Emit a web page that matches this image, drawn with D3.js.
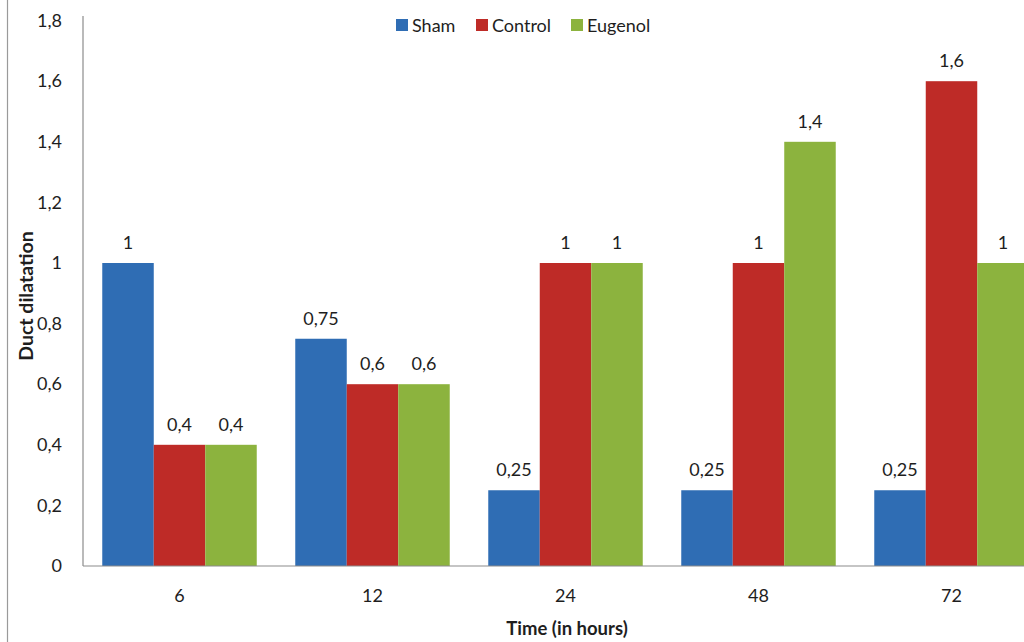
<!DOCTYPE html>
<html>
<head>
<meta charset="utf-8">
<script src="https://cdn.jsdelivr.net/npm/d3@7"></script>
<style>
  html, body { margin: 0; padding: 0; background: #fff; }
  svg { display: block; font-family: Lato, "Open Sans", sans-serif; }
</style>
</head>
<body>
<svg id="chart" width="1024" height="642"></svg>
<script>
// Duct dilatation over time for three groups
const categories = ["6", "12", "24", "48", "72"];
const seriesNames = ["Sham", "Control", "Eugenol"];
const shamValues = [1, 0.75, 0.25, 0.25, 0.25];
const controlValues = [0.4, 0.6, 1, 1, 1.6];
const eugenolValues = [0.4, 0.6, 1, 1.4, 1];
const yTicks = [0, 0.2, 0.4, 0.6, 0.8, 1, 1.2, 1.4, 1.6, 1.8];
const colors = ["#2f6db4", "#be2b27", "#8cb33e"];

const seriesValues = [shamValues, controlValues, eugenolValues];
const rows = categories.map((c, i) => ({
  cat: c,
  vals: seriesNames.map((s, j) => ({ key: s, value: seriesValues[j][i], color: colors[j] }))
}));

const svg = d3.select("#chart");
const plotLeft = 83, plotBottom = 566, plotTop = 20.6;
const fmt = v => String(v).replace(".", ",");
const textColor = "#1e1e1e";

// left page border line
svg.append("line")
  .attr("x1", 7.5).attr("x2", 7.5).attr("y1", 0).attr("y2", 642)
  .attr("stroke", "#9a9a9a").attr("stroke-width", 1.2);

const y = d3.scaleLinear().domain([0, 1.8]).range([plotBottom, plotTop]);
const x0 = d3.scaleBand().domain(categories).range([plotLeft, plotLeft + 5 * 193]).padding(0);
const x1 = d3.scaleBand().domain(seriesNames).range([0, x0.bandwidth()])
  .paddingInner(0).paddingOuter(0.374);

// bars
const groups = svg.append("g").selectAll("g").data(rows).join("g")
  .attr("transform", d => `translate(${x0(d.cat)},0)`);

groups.selectAll("rect").data(d => d.vals).join("rect")
  .attr("x", d => x1(d.key))
  .attr("y", d => y(d.value))
  .attr("width", x1.bandwidth())
  .attr("height", d => plotBottom - y(d.value))
  .attr("fill", d => d.color);

// value labels
groups.selectAll("text").data(d => d.vals).join("text")
  .attr("x", d => x1(d.key) + x1.bandwidth() / 2)
  .attr("y", d => y(d.value) - 14)
  .attr("text-anchor", "middle")
  .attr("font-size", 18)
  .attr("fill", textColor)
  .text(d => fmt(d.value));

// y axis
const yAxis = d3.axisLeft(y).tickValues(yTicks).tickSize(0).tickPadding(21)
  .tickFormat(fmt);
const gy = svg.append("g").attr("transform", `translate(${plotLeft},0)`).call(yAxis);
gy.select(".domain").remove();
gy.selectAll("text").attr("font-size", 18).attr("fill", textColor)
  .attr("font-family", "Lato, 'Open Sans', sans-serif");
svg.append("line")
  .attr("x1", plotLeft).attr("x2", plotLeft).attr("y1", 16).attr("y2", plotBottom)
  .attr("stroke", "#8c8c8c").attr("stroke-width", 1.2);

// x axis
const xAxis = d3.axisBottom(x0).tickSize(0).tickPadding(23);
const gx = svg.append("g").attr("transform", `translate(0,${plotBottom})`).call(xAxis);
gx.select(".domain").remove();
gx.selectAll("text").attr("font-size", 18).attr("fill", textColor)
  .attr("font-family", "Lato, 'Open Sans', sans-serif");
svg.append("line")
  .attr("x1", plotLeft).attr("x2", 1024).attr("y1", plotBottom).attr("y2", plotBottom)
  .attr("stroke", "#8c8c8c").attr("stroke-width", 1.2);

// axis titles
svg.append("text")
  .attr("x", 567).attr("y", 635)
  .attr("text-anchor", "middle")
  .attr("font-size", 18.5).attr("font-weight", "bold").attr("fill", textColor)
  .text("Time (in hours)");
svg.append("text")
  .attr("transform", "translate(33,296) rotate(-90)")
  .attr("text-anchor", "middle")
  .attr("font-size", 19.5).attr("font-weight", "bold").attr("fill", textColor)
  .text("Duct dilatation");

// legend
const legendX = [396, 476, 571];
const legend = svg.append("g").selectAll("g").data(seriesNames).join("g")
  .attr("transform", (d, i) => `translate(${legendX[i]},19)`);
legend.append("rect").attr("width", 12).attr("height", 12)
  .attr("fill", (d, i) => colors[i]);
legend.append("text").attr("x", 16).attr("y", 12.5)
  .attr("font-size", 18).attr("fill", textColor)
  .text(d => d);
</script>
</body>
</html>
